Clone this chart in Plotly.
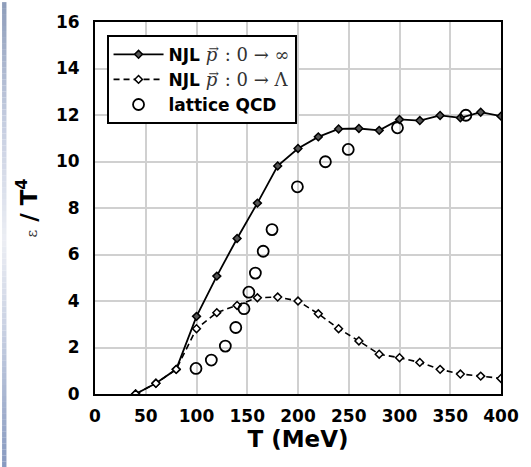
import plotly.graph_objects as go

# Temperature grid for the NJL curves (MeV)
T_njl = [40, 60, 80, 100, 120, 140, 160, 180, 200, 220, 240, 260, 280, 300, 320, 340, 360, 380, 400]

# NJL energy density, momentum integral 0 -> infinity
eps_inf = [0.0, 0.46, 1.06, 3.34, 5.07, 6.69, 8.21, 9.81, 10.56, 11.06, 11.40, 11.42, 11.34,
           11.81, 11.76, 11.98, 11.88, 12.12, 11.95]

# NJL energy density, momentum integral 0 -> Lambda
eps_cut = [0.0, 0.46, 1.06, 2.81, 3.50, 3.81, 4.14, 4.17, 4.00, 3.45, 2.81, 2.28, 1.71,
           1.56, 1.36, 1.06, 0.86, 0.77, 0.67]

# Lattice QCD points
T_lat = [99.5, 114.6, 128.4, 138.7, 146.8, 151.6, 158.0, 165.7, 174.4, 199.4, 227.0, 249.5, 298.0, 365.4]
eps_lat = [1.10, 1.46, 2.06, 2.86, 3.67, 4.38, 5.20, 6.14, 7.07, 8.91, 9.99, 10.52, 11.45, 11.99]

x_ticks = [0, 50, 100, 150, 200, 250, 300, 350, 400]
y_ticks = [0, 2, 4, 6, 8, 10, 12, 14, 16]

MATH = "font-family:'DejaVu Serif';font-weight:normal;font-size:18px;color:#333333"
# vector p: the arrow is pulled back over the italic p with negative letter spacing
PVEC = ("<span style=\"letter-spacing:-9px\"><i>p</i></span>"
        "<sup>\u2192</sup>")


def njl_label(upper):
    return f"NJL <span style=\"{MATH}\">{PVEC} : 0 \u2192 {upper}</span>"


fig = go.Figure()

fig.add_trace(go.Scatter(
    x=T_njl, y=eps_inf, mode="lines+markers",
    name=njl_label("\u221e"),
    line=dict(color="black", width=1.8),
    marker=dict(symbol="diamond", size=6, color="#555555", line=dict(color="black", width=1.5)),
))

fig.add_trace(go.Scatter(
    x=T_njl, y=eps_cut, mode="lines+markers",
    name=njl_label("\u039b"),
    line=dict(color="black", width=1.6, dash="6px,4px"),
    marker=dict(symbol="diamond", size=6, color="white", line=dict(color="black", width=1.5)),
))

fig.add_trace(go.Scatter(
    x=T_lat, y=eps_lat, mode="markers",
    name="lattice QCD",
    marker=dict(symbol="circle-open", size=11, color="black", line=dict(color="black", width=1.8)),
))

# Slide-style border: gradient strip on the left
W, H = 531, 467
L, R, Tm, B = 95, 21, 20, 73
pw, ph = W - L - R, H - Tm - B


def px_x(p):
    return (p - L) / pw


def px_y(p):
    return (H - B - p) / ph


def mix(c1, c2, t):
    return "#%02x%02x%02x" % tuple(round(a + (b - a) * t) for a, b in zip(c1, c2))


stops = [(0, (0x8e, 0x9d, 0xba)), (120, (0xc5, 0xcd, 0xe0)), (240, (0xec, 0xee, 0xf4)),
         (330, (0xc8, 0xd0, 0xe2)), (467, (0x87, 0x99, 0xbf))]
shapes = []
step = 6
for y0 in range(0, H, step):
    yc = y0 + step / 2
    col = mix(stops[-1][1], stops[-1][1], 0)
    for (a, ca), (b, cb) in zip(stops[:-1], stops[1:]):
        if a <= yc <= b:
            col = mix(ca, cb, (yc - a) / (b - a))
            break
    shapes.append(dict(type="rect", xref="paper", yref="paper", layer="below",
                       x0=px_x(0), x1=px_x(4.5), y0=px_y(min(y0 + step, H + 10)), y1=px_y(y0),
                       fillcolor=col, line=dict(width=0)))

fig.update_layout(
    width=W, height=H,
    margin=dict(l=L, r=R, t=Tm, b=B),
    paper_bgcolor="white", plot_bgcolor="white",
    font=dict(family="DejaVu Sans", color="black", size=17, weight="bold"),
    shapes=shapes,
    showlegend=True,
    legend=dict(
        x=px_x(107), y=px_y(33), xanchor="left", yanchor="top",
        bgcolor="white", bordercolor="black", borderwidth=1.8,
        font=dict(size=17, family="DejaVu Sans", weight="bold"),
        itemwidth=50, tracegroupgap=0,
    ),
    xaxis=dict(
        range=[0, 400], tickvals=x_ticks, ticktext=[str(v) for v in x_ticks],
        showgrid=True, gridcolor="#d0d0d0", gridwidth=2,
        showline=True, linecolor="black", linewidth=2, mirror=True,
        ticks="", ticklabelstandoff=6, zeroline=False,
        tickfont=dict(size=17, family="DejaVu Sans", weight="bold"),
        title=dict(text="T (MeV)", font=dict(size=23, family="DejaVu Sans", weight="bold"), standoff=4),
    ),
    yaxis=dict(
        range=[0, 16], tickvals=y_ticks, ticktext=[str(v) for v in y_ticks],
        showgrid=True, gridcolor="#d0d0d0", gridwidth=2,
        showline=True, linecolor="black", linewidth=2, mirror=True,
        ticks="", ticklabelstandoff=10, zeroline=False,
        tickfont=dict(size=17, family="DejaVu Sans", weight="bold"),
        title=dict(
            text="<span style=\"font-family:'DejaVu Serif';font-weight:normal;font-size:15px;color:#333333\">\u03b5</span> / T<sup>4</sup>",
            font=dict(size=23, family="DejaVu Sans", weight="bold"), standoff=12,
        ),
    ),
)

fig.write_html("out.html")
